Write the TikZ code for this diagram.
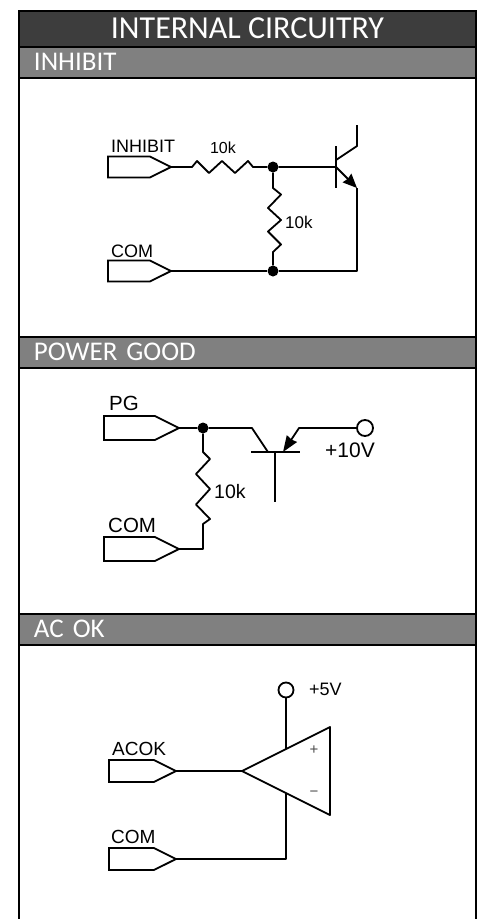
\documentclass[tikz,border=0pt]{standalone}
\usepackage{fontspec}
\setmainfont{Liberation Sans}
\newfontfamily\bandfont{Carlito}
\usetikzlibrary{shapes.symbols,arrows.meta}

\tikzset{
    band/.style={draw=black, line width=2pt, outer sep=0pt, anchor=north west,
        minimum width=457pt, text=white},
    sectionband/.style={band, fill=black!50, minimum height=31pt, inner xsep=15pt,
        text width=427pt, align=left, font=\bandfont\fontsize{27}{27}\selectfont},
    wire/.style={draw=black, line width=1.8pt, line join=round},
    pad/.style={draw=black, line width=1.8pt, signal, signal to=east, signal pointer angle=53,
        anchor=east, outer sep=0pt, inner sep=0pt},
    junction/.style={circle, fill=black, inner sep=0pt, minimum size=11pt},
    terminal/.style={circle, draw=black, fill=white, line width=1.8pt, inner sep=0pt, outer sep=0pt},
    pinlabel/.style={anchor=west, inner sep=0pt},
}

\begin{document}
\begin{tikzpicture}[x=1pt,y=-1pt]

\useasboundingbox (0,0) rectangle (489,919);

% Bands
\node [band,
    fill=black!76,
    minimum height=36pt,
    font=\bandfont\fontsize{32}{32}\selectfont] (title) at (19,10.5) {INTERNAL CIRCUITRY};
\node [sectionband] (inhibit) at (19,46.5) {INHIBIT};
\node [sectionband] (pgood) at (19,336.5) {POWER GOOD};
\node [sectionband] (acok) at (19,613.5) {AC OK};

% Frame
\draw [line width=2pt] (title.north west) -- (19,919);
\draw [line width=2pt] (title.north east) -- (476,919);

% Inhibit
\node [pad, minimum width=63pt, minimum height=21pt] (P1) at (171,167) {};
\node [pad, minimum width=63pt, minimum height=21pt] (P2) at (171,271) {};
\node [pinlabel, font=\fontsize{18}{18}\selectfont] (L1) at (111,146) {INHIBIT};
\node [pinlabel, font=\fontsize{18}{18}\selectfont] (L2) at (111,251) {COM};
\node [junction] (J1) at (273,167) {};
\node [junction] (J2) at (273,271) {};
\coordinate (R1a) at (192,167);
\coordinate (R1b) at (253,167);
\coordinate (R2a) at (273,188);
\coordinate (R2b) at (273,252);
\coordinate (B1) at (336,167);
\coordinate (C1) at (357,125);
\coordinate (E1) at (357,188);
\node [font=\fontsize{16}{16}\selectfont] (V1) at (223,148) {10k};
\node [pinlabel, font=\fontsize{17}{17}\selectfont] (V2) at (285,222) {10k};

\draw [wire] (P1.east) -- (R1a) -- ++(5,-6) -- ++(12,12) -- ++(13,-12) -- ++(13,12) -- ++(13,-12) -- (R1b) -- (J1) -- (B1);
\draw [wire] (J1) -- (R2a) -- ++(8,6.5) -- ++(-13,13.5) -- ++(13,12) -- ++(-13,11.5) -- ++(13,13) -- (R2b) -- (J2);
\draw [wire] (P2.east) -- (J2) -- (E1 |- J2) -- (E1);
\draw [wire] (336,146) -- (336,188);
\draw [wire] (336,160) -- (357,146) -- (C1);
\draw [wire, -{Stealth[length=14pt,width=12pt,inset=1pt]}] (B1) -- (E1);

% Power good
\node [pad, minimum width=75pt, minimum height=24pt] (P3) at (179,428) {};
\node [pad, minimum width=75pt, minimum height=24pt] (P4) at (179,549) {};
\node [pinlabel, font=\fontsize{20.5}{20.5}\selectfont] (L3) at (109,403) {PG};
\node [pinlabel, font=\fontsize{20.5}{20.5}\selectfont] (L4) at (108,525) {COM};
\node [junction] (J3) at (203,428) {};
\node [terminal, minimum size=16pt] (T1) at (365,428) {};
\coordinate (R3a) at (203,452);
\coordinate (R3b) at (203,524);
\coordinate (B2) at (268,452);
\coordinate (E2) at (283,452);
\coordinate (C2) at (275,502);
\node [pinlabel, font=\fontsize{19.5}{19.5}\selectfont] (V3) at (214,492) {10k};
\node [font=\fontsize{21}{21}\selectfont] (V4) at (350,450) {+10V};

\draw [wire] (P3.east) -- (J3) -- (252,428) -- (B2);
\draw [wire] (J3) -- (R3a) -- ++(7,7) -- ++(-14,15) -- ++(14,15) -- ++(-14,15.5) -- ++(14,14.5) -- (R3b) -- (R3b |- P4.east) -- (P4.east);
\draw [wire] (251,452) -- (300,452);
\draw [wire] (C2 |- E2) -- (C2);
\draw [wire, -{Stealth[length=16pt,width=12pt,inset=1pt]}] (T1.west) -- (299,428) -- (E2);

% AC OK
\node [pad, minimum width=67pt, minimum height=22pt] (P5) at (176,771) {};
\node [pad, minimum width=67pt, minimum height=22pt] (P6) at (176,859) {};
\node [pinlabel, font=\fontsize{19}{19}\selectfont] (L5) at (112,749) {ACOK};
\node [pinlabel, font=\fontsize{19}{19}\selectfont] (L6) at (111,837) {COM};
\node [terminal, minimum size=15pt] (T2) at (286,690) {};
\node [pinlabel, font=\fontsize{18}{18}\selectfont] (V5) at (309,689) {+5V};
\coordinate (A) at (242,771);
\coordinate (S1) at (286,749);
\coordinate (S2) at (286,793);

\draw [wire] (P5.east) -- (A);
\draw [wire] (T2) -- (S1);
\draw [wire] (S2) -- (S2 |- P6.east) -- (P6.east);
\draw [wire] (A) -- (330,727) -- (330,815) -- cycle;
\node [font=\fontsize{15}{15}\selectfont, text=black!70] (plus) at (314,750) {+};
\node [font=\fontsize{15}{15}\selectfont, text=black!70] (minus) at (314,794) {\char"2212};

\end{tikzpicture}
\end{document}
